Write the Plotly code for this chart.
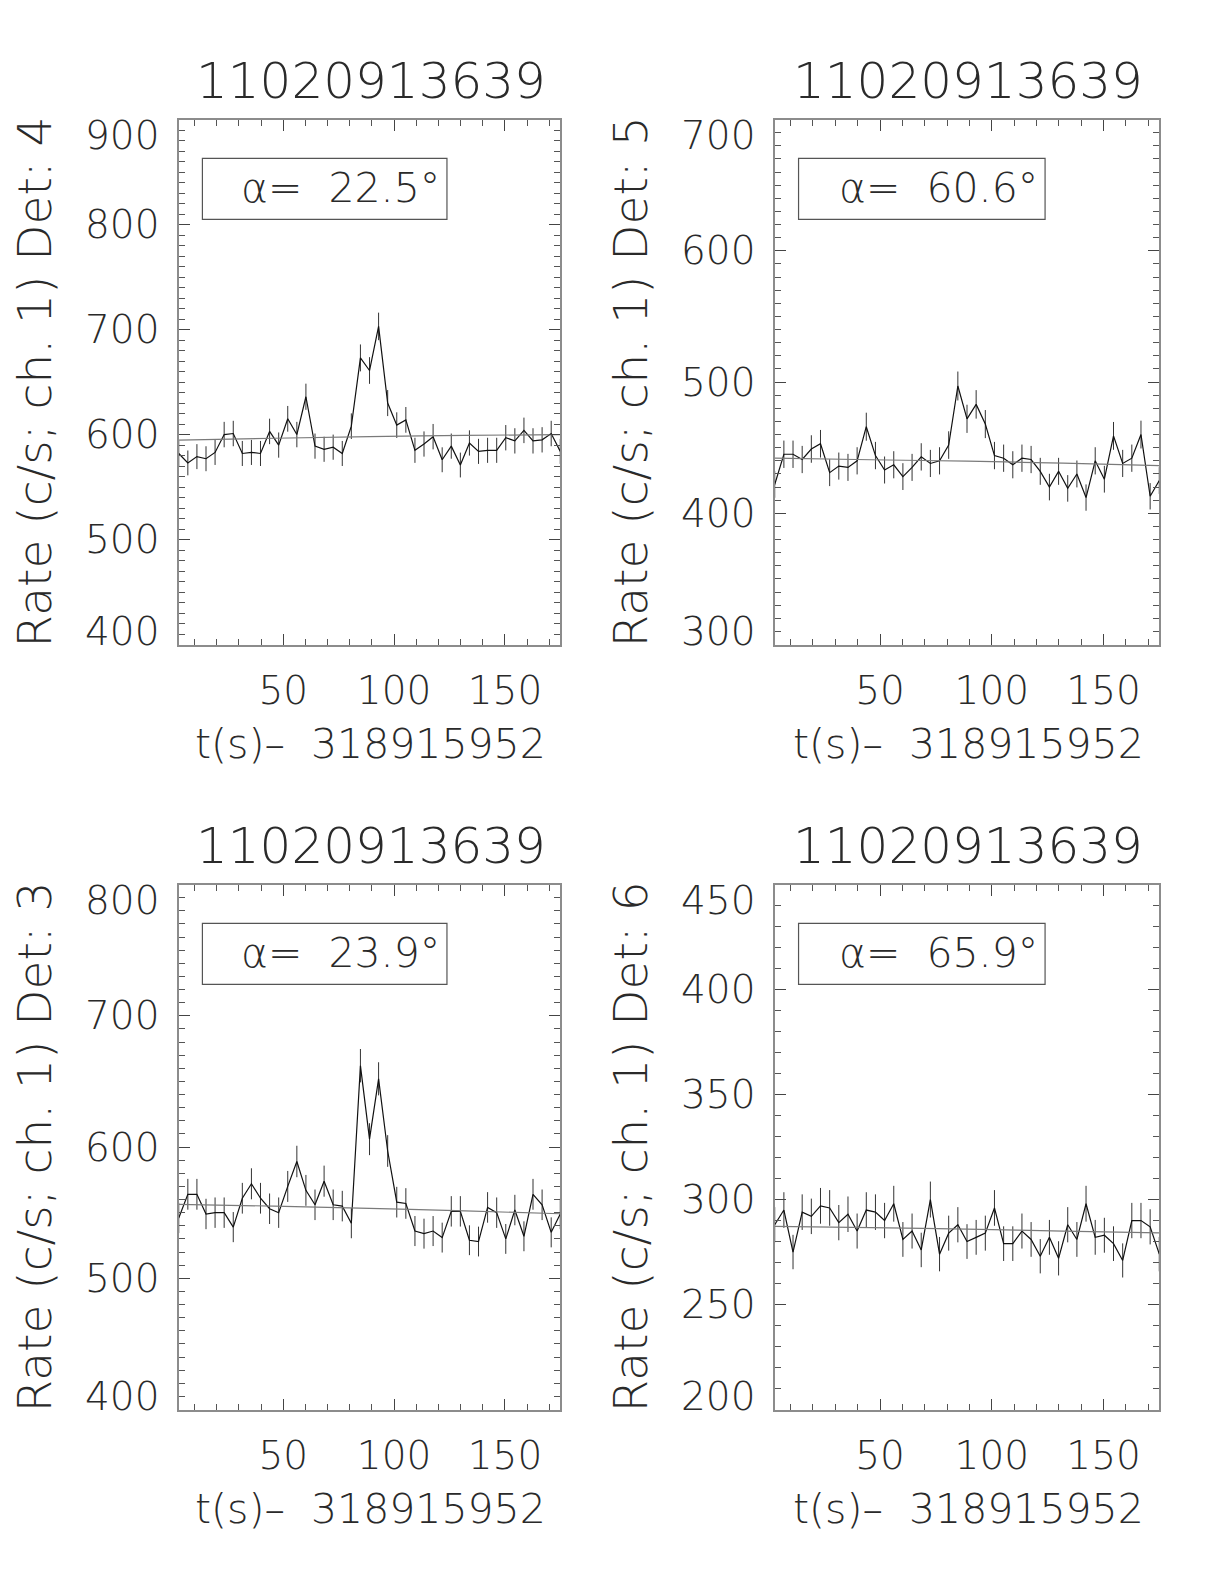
"""Four-detector light curves around trigger 11020913639 (rate vs time, with background fit)."""

import numpy as np
import plotly.graph_objects as go
from plotly.subplots import make_subplots

TITLE = "11020913639"
X_TITLE = "t(s)\u2013\u00a0\u00a0318915952"

# bin centres (s after 318915952), 4.096 s bins
time_s = [2.90, 7.00, 11.09, 15.19, 19.28, 23.38, 27.48, 31.57, 35.67, 39.76, 43.86,
          47.96, 52.05, 56.15, 60.24, 64.34, 68.44, 72.53, 76.63, 80.72, 84.82, 88.92,
          93.01, 97.11, 101.20, 105.30, 109.40, 113.49, 117.59, 121.68, 125.78, 129.88,
          133.97, 138.07, 142.16, 146.26, 150.36, 154.45, 158.55, 162.64, 166.74, 170.84,
          174.93]
BIN_S = 4.096

# count rates, ch. 1
rate_det4 = [582, 573, 579, 577, 583, 600, 601, 582, 583, 582, 603, 590, 615, 600, 636, 589,
             586, 588, 582, 608, 673, 661, 703, 630, 609, 614, 585, 591, 598, 576, 589, 571,
             592, 584, 585, 585, 597, 594, 604, 594, 595, 601, 584]
rate_det5 = [422, 445, 445, 441, 449, 453, 431, 436, 435, 440, 466, 444, 433, 437, 428, 435,
             443, 438, 440, 452, 497, 472, 483, 468, 444, 442, 437, 442, 441, 432, 420, 432,
             419, 430, 412, 440, 426, 459, 438, 442, 460, 413, 425]
rate_det3 = [546, 564, 564, 549, 550, 550, 539, 561, 572, 561, 553, 550, 570, 589, 567, 556,
             574, 556, 555, 542, 662, 606, 652, 597, 558, 557, 536, 534, 536, 531, 551, 551,
             529, 528, 554, 550, 530, 552, 532, 564, 556, 535, 549]
rate_det6 = [288, 295, 275, 294, 292, 297, 296, 289, 293, 285, 295, 294, 290, 298, 281, 285,
             276, 300, 274, 284, 288, 280, 282, 284, 296, 279, 279, 285, 281, 273, 282, 272,
             288, 281, 298, 282, 283, 279, 271, 290, 290, 287, 274]

# background fit, sampled at these times
bkg_time = [2.9, 45.9, 88.9, 131.9, 174.9]
bkg_det4 = [594.8, 596.5, 598.0, 599.2, 600.0]
bkg_det5 = [442.0, 440.8, 439.7, 438.2, 436.4]
bkg_det3 = [556.3, 555.0, 553.3, 551.3, 549.2]
bkg_det6 = [287.2, 286.6, 285.9, 285.0, 284.1]

detectors = ["4", "5", "3", "6"]
angles = ["22.5", "60.6", "23.9", "65.9"]
y_ranges = [[400, 900], [300, 700], [400, 800], [200, 450]]
y_ticks = [
    [400, 500, 600, 700, 800, 900],
    [300, 400, 500, 600, 700],
    [400, 500, 600, 700, 800],
    [200, 250, 300, 350, 400, 450],
]
x_ticks = [50, 100, 150]

rates = [rate_det4, rate_det5, rate_det3, rate_det6]
bkgs = [bkg_det4, bkg_det5, bkg_det3, bkg_det6]
cells = [(1, 1), (1, 2), (2, 1), (2, 2)]

INK = "#2a2a2a"
FRAME = "#8c8c8c"
FONT = "'DejaVu Sans', sans-serif"
W = 200

col_domains = [[0.1395, 0.4512], [0.6264, 0.9406]]
row_domains = [[0.5981, 0.9296], [0.1152, 0.4466]]

fig = make_subplots(rows=2, cols=2)

for i, (row, col) in enumerate(cells):
    rate = np.array(rates[i], dtype=float)
    err = np.sqrt(rate / BIN_S)  # Poisson error on one bin
    fig.add_trace(
        go.Scatter(
            x=time_s, y=rate, mode="lines",
            line=dict(color="#111111", width=1.2),
            error_y=dict(type="data", array=err, visible=True,
                         color="#333333", thickness=1, width=0),
            showlegend=False, hoverinfo="x+y",
        ),
        row=row, col=col,
    )
    fig.add_trace(
        go.Scatter(
            x=bkg_time, y=bkgs[i], mode="lines",
            line=dict(color="#7a7a7a", width=1.2, shape="spline"),
            showlegend=False, hoverinfo="skip",
        ),
        row=row, col=col,
    )

annotations = []
shapes = []
for i, (row, col) in enumerate(cells):
    n = i + 1
    xa = "xaxis" if n == 1 else f"xaxis{n}"
    ya = "yaxis" if n == 1 else f"yaxis{n}"
    xr = "x" if n == 1 else f"x{n}"
    yr = "y" if n == 1 else f"y{n}"
    xd = col_domains[col - 1]
    yd = row_domains[row - 1]

    fig.layout[xa].update(
        domain=xd, range=[time_s[0], time_s[-1]], automargin=False,
        tickvals=x_ticks, ticks="inside", ticklen=11, tickwidth=1.2, tickcolor="#444444",
        minor=dict(dtick=10, tick0=0, ticks="inside", ticklen=6, tickcolor="#555555", showgrid=False),
        showline=True, linecolor=FRAME, linewidth=2, mirror="allticks",
        showgrid=False, zeroline=False,
        tickfont=dict(family=FONT, size=39, color=INK, weight=W),
        ticklabelstandoff=11,
    )
    fig.layout[ya].update(
        domain=yd, range=y_ranges[i], tickvals=y_ticks[i], automargin=False,
        ticks="inside", ticklen=11, tickwidth=1.2, tickcolor="#444444",
        minor=dict(dtick=10, tick0=0, ticks="inside", ticklen=6, tickcolor="#555555", showgrid=False),
        showline=True, linecolor=FRAME, linewidth=2, mirror="allticks",
        showgrid=False, zeroline=False, showticklabels=False,
    )

    # y tick labels: the end labels sit inside the axis span, as in the original
    ticks = y_ticks[i]
    for k, v in enumerate(ticks):
        if k == 0:
            anchor, shift = "bottom", -11
        elif k == len(ticks) - 1:
            anchor, shift = "top", 9
        else:
            anchor, shift = "middle", 0
        annotations.append(dict(
            text=str(v), x=xd[0], y=v, xref="paper", yref=yr,
            xanchor="right", yanchor=anchor, xshift=-18, yshift=shift, showarrow=False,
            font=dict(family=FONT, size=39, color=INK, weight=W),
        ))

    xc = (xd[0] + xd[1]) / 2
    annotations.append(dict(
        text=TITLE, x=xc + 0.001, y=yd[1] + 0.0245, xref="paper", yref="paper",
        xanchor="center", yanchor="middle", showarrow=False,
        font=dict(family=FONT, size=50, color=INK, weight=W),
    ))
    annotations.append(dict(
        text=X_TITLE, x=xc + 0.001, y=yd[0] - 0.063, xref="paper", yref="paper",
        xanchor="center", yanchor="middle", showarrow=False,
        font=dict(family=FONT, size=41, color=INK, weight=W),
    ))
    annotations.append(dict(
        text=f"Rate (c/s; ch. 1) Det: {detectors[i]}",
        x=xd[0] - 0.118, y=(yd[0] + yd[1]) / 2, xref="paper", yref="paper",
        xanchor="center", yanchor="middle", textangle=-90, showarrow=False,
        font=dict(family=FONT, size=47, color=INK, weight=W),
    ))
    annotations.append(dict(
        text=f"\u03b1=\u00a0\u00a0{angles[i]}\u00b0",
        x=0.425, y=0.87, xref=f"{xr} domain", yref=f"{yr} domain",
        xanchor="center", yanchor="middle", showarrow=False,
        font=dict(family=FONT, size=41, color=INK, weight=W),
    ))
    shapes.append(dict(
        type="rect", x0=0.062, x1=0.703, y0=0.81, y1=0.926,
        xref=f"{xr} domain", yref=f"{yr} domain",
        line=dict(color="#555555", width=1.2), fillcolor="rgba(0,0,0,0)",
    ))

fig.update_layout(
    width=1224, height=1584,
    margin=dict(l=0, r=0, t=0, b=0, autoexpand=False),
    paper_bgcolor="white", plot_bgcolor="white",
    font=dict(family=FONT, color=INK),
    annotations=annotations, shapes=shapes,
    showlegend=False,
)

fig.write_html("out.html")
